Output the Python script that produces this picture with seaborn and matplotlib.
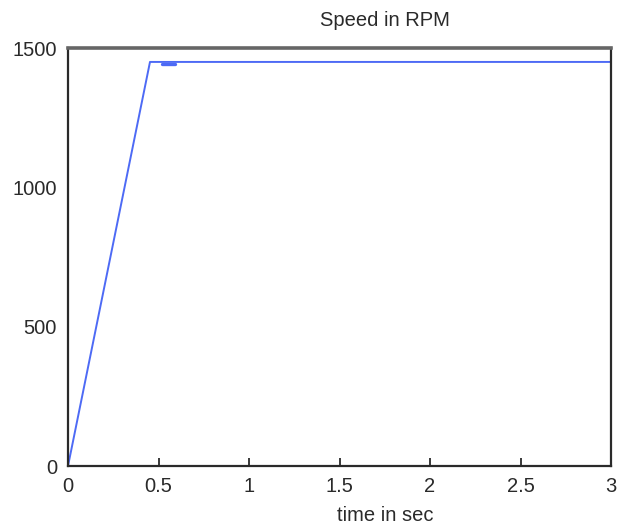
import matplotlib
matplotlib.use("Agg")
import matplotlib.pyplot as plt
import seaborn as sns
import pandas as pd

# data
time_s = [0.0, 0.453, 3.0]
speed_rpm = [0, 1450, 1450]
blip_time = [0.52, 0.59]
blip_speed = [1444, 1444]
x_ticks = [0, 0.5, 1, 1.5, 2, 2.5, 3]
x_tick_labels = ["0", "0.5", "1", "1.5", "2", "2.5", "3"]
y_ticks = [0, 500, 1000, 1500]
y_tick_labels = ["0", "500", "1000", "1500"]

sns.set_style("white")
plt.rcParams["font.family"] = ["Liberation Sans", "DejaVu Sans"]

fig = plt.figure(figsize=(6.21, 5.25), dpi=100)
ax = fig.add_axes([68 / 621, 59 / 525, 543 / 621, 418 / 525])

df = pd.DataFrame({"t": time_s, "n": speed_rpm})
sns.lineplot(data=df, x="t", y="n", ax=ax, color="#4d6af5", linewidth=1.4)
dfb = pd.DataFrame({"t": blip_time, "n": blip_speed})
sns.lineplot(data=dfb, x="t", y="n", ax=ax, color="#4d6af5", linewidth=2.4)

tc = "#2a2a2a"
ax.set_xlim(0, 3)
ax.set_ylim(0, 1500)
ax.set_xticks(x_ticks)
ax.set_xticklabels(x_tick_labels, fontsize=14.5, color=tc)
ax.set_yticks(y_ticks)
ax.set_yticklabels(y_tick_labels, fontsize=14.5, color=tc)
ax.tick_params(axis="x", bottom=True, direction="in", length=6, width=1.3, color=tc, pad=8)
ax.tick_params(axis="y", left=False, length=0, pad=8)
ax.set_xlabel("time in sec", fontsize=14.5, color=tc)
ax.xaxis.set_label_coords((385 - 68) / 543, -0.095)
ax.set_ylabel("")

for side in ["left", "right", "bottom"]:
    ax.spines[side].set_visible(True)
    ax.spines[side].set_color(tc)
    ax.spines[side].set_linewidth(1.6)
ax.spines["top"].set_color("#666666")
ax.spines["top"].set_linewidth(2.6)

fig.text(385 / 621, 1 - 21 / 525, "Speed in RPM", fontsize=14.5, color=tc,
         ha="center", va="center")

fig.savefig("out.png", dpi=100, facecolor="white")
